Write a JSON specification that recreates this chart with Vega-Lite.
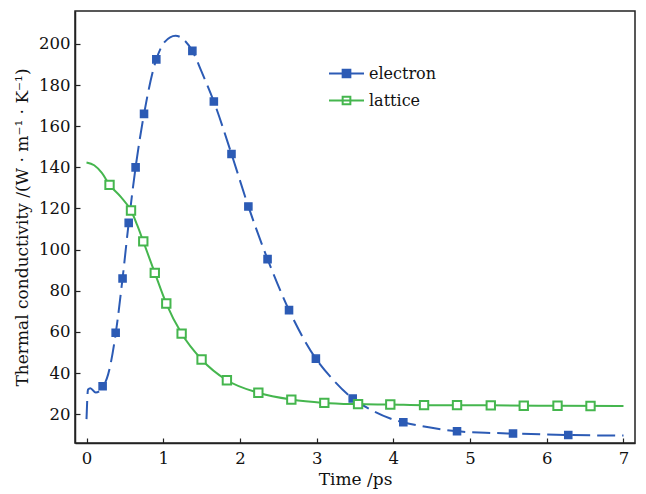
{
  "$schema": "https://vega.github.io/schema/vega-lite/v6.json",
  "width": 560,
  "height": 432,
  "autosize": {"type": "none"},
  "padding": {"left": 75, "top": 11, "right": 11, "bottom": 51},
  "background": "white",
  "config": {
    "font": "DejaVu Serif",
    "view": {"stroke": "#222", "strokeWidth": 1.5},
    "axis": {
      "grid": false,
      "domainColor": "#222",
      "domainWidth": 1.5,
      "tickColor": "#222",
      "tickWidth": 1.2,
      "labelFont": "DejaVu Serif",
      "labelFontSize": 16.5,
      "labelColor": "#111",
      "titleFont": "DejaVu Serif",
      "titleFontSize": 17,
      "titleFontWeight": "normal",
      "titleColor": "#111"
    },
    "legend": {
      "labelFont": "DejaVu Serif", "labelFontSize": 16, "labelColor": "#111",
      "orient": "none", "legendX": 253, "legendY": 44,
      "symbolType": "M-1,0L1,0M-0.22,-0.22L0.22,-0.22L0.22,0.22L-0.22,0.22Z",
      "symbolSize": 1225, "symbolStrokeWidth": 2, "rowPadding": -6, "labelOffset": 4
    }
  },
  "datasets": {
    "curve": [
      {"series": "electron", "t": 0.0, "v": 17.6},
      {"series": "electron", "t": 0.02, "v": 32.0},
      {"series": "electron", "t": 0.05, "v": 32.6},
      {"series": "electron", "t": 0.12, "v": 30.5},
      {"series": "electron", "t": 0.2, "v": 32.5},
      {"series": "electron", "t": 0.3, "v": 42},
      {"series": "electron", "t": 0.38, "v": 59},
      {"series": "electron", "t": 0.47, "v": 86},
      {"series": "electron", "t": 0.55, "v": 113},
      {"series": "electron", "t": 0.64, "v": 140},
      {"series": "electron", "t": 0.75, "v": 166},
      {"series": "electron", "t": 0.91, "v": 192.5},
      {"series": "electron", "t": 1.02, "v": 201},
      {"series": "electron", "t": 1.16, "v": 204},
      {"series": "electron", "t": 1.27, "v": 202},
      {"series": "electron", "t": 1.38, "v": 196.6},
      {"series": "electron", "t": 1.5, "v": 186.5},
      {"series": "electron", "t": 1.66, "v": 172},
      {"series": "electron", "t": 1.89, "v": 146.5},
      {"series": "electron", "t": 2.11, "v": 121},
      {"series": "electron", "t": 2.36, "v": 95.4},
      {"series": "electron", "t": 2.64, "v": 70.6},
      {"series": "electron", "t": 2.99, "v": 47},
      {"series": "electron", "t": 3.22, "v": 36.5},
      {"series": "electron", "t": 3.47, "v": 27.6},
      {"series": "electron", "t": 3.7, "v": 22.3},
      {"series": "electron", "t": 3.96, "v": 17.9},
      {"series": "electron", "t": 4.13, "v": 16.1},
      {"series": "electron", "t": 4.5, "v": 13.4},
      {"series": "electron", "t": 4.83, "v": 11.7},
      {"series": "electron", "t": 5.2, "v": 11.0},
      {"series": "electron", "t": 5.56, "v": 10.6},
      {"series": "electron", "t": 6.28, "v": 9.9},
      {"series": "electron", "t": 7.0, "v": 9.6},
      {"series": "lattice", "t": 0.0, "v": 142.4},
      {"series": "lattice", "t": 0.1, "v": 141},
      {"series": "lattice", "t": 0.2, "v": 137.3},
      {"series": "lattice", "t": 0.3, "v": 131.5},
      {"series": "lattice", "t": 0.45, "v": 125.5},
      {"series": "lattice", "t": 0.58, "v": 119},
      {"series": "lattice", "t": 0.66, "v": 112},
      {"series": "lattice", "t": 0.74, "v": 104},
      {"series": "lattice", "t": 0.89, "v": 88.7},
      {"series": "lattice", "t": 1.04, "v": 73.8},
      {"series": "lattice", "t": 1.24, "v": 59.2},
      {"series": "lattice", "t": 1.5, "v": 46.6},
      {"series": "lattice", "t": 1.83, "v": 36.5},
      {"series": "lattice", "t": 2.24, "v": 30.4},
      {"series": "lattice", "t": 2.67, "v": 27.1},
      {"series": "lattice", "t": 3.09, "v": 25.5},
      {"series": "lattice", "t": 3.54, "v": 24.9},
      {"series": "lattice", "t": 3.96, "v": 24.7},
      {"series": "lattice", "t": 4.4, "v": 24.4},
      {"series": "lattice", "t": 5.27, "v": 24.3},
      {"series": "lattice", "t": 6.14, "v": 24.1},
      {"series": "lattice", "t": 7.0, "v": 24.0}
    ],
    "markers": [
      {"series": "electron", "t": 0.21, "v": 33.6},
      {"series": "electron", "t": 0.38, "v": 59.6},
      {"series": "electron", "t": 0.47, "v": 86},
      {"series": "electron", "t": 0.55, "v": 113},
      {"series": "electron", "t": 0.64, "v": 140},
      {"series": "electron", "t": 0.75, "v": 166},
      {"series": "electron", "t": 0.91, "v": 192.5},
      {"series": "electron", "t": 1.38, "v": 196.6},
      {"series": "electron", "t": 1.66, "v": 172},
      {"series": "electron", "t": 1.89, "v": 146.5},
      {"series": "electron", "t": 2.11, "v": 121},
      {"series": "electron", "t": 2.36, "v": 95.4},
      {"series": "electron", "t": 2.64, "v": 70.6},
      {"series": "electron", "t": 2.99, "v": 47},
      {"series": "electron", "t": 3.47, "v": 27.6},
      {"series": "electron", "t": 4.13, "v": 16.1},
      {"series": "electron", "t": 4.83, "v": 11.7},
      {"series": "electron", "t": 5.56, "v": 10.6},
      {"series": "electron", "t": 6.28, "v": 9.9},
      {"series": "lattice", "t": 0.3, "v": 131.5},
      {"series": "lattice", "t": 0.58, "v": 119},
      {"series": "lattice", "t": 0.74, "v": 104},
      {"series": "lattice", "t": 0.89, "v": 88.7},
      {"series": "lattice", "t": 1.04, "v": 73.8},
      {"series": "lattice", "t": 1.24, "v": 59.2},
      {"series": "lattice", "t": 1.5, "v": 46.6},
      {"series": "lattice", "t": 1.83, "v": 36.5},
      {"series": "lattice", "t": 2.24, "v": 30.4},
      {"series": "lattice", "t": 2.67, "v": 27.1},
      {"series": "lattice", "t": 3.1, "v": 25.5},
      {"series": "lattice", "t": 3.54, "v": 24.9},
      {"series": "lattice", "t": 3.96, "v": 24.7},
      {"series": "lattice", "t": 4.4, "v": 24.4},
      {"series": "lattice", "t": 4.83, "v": 24.4},
      {"series": "lattice", "t": 5.27, "v": 24.3},
      {"series": "lattice", "t": 5.7, "v": 24.1},
      {"series": "lattice", "t": 6.14, "v": 24.1},
      {"series": "lattice", "t": 6.57, "v": 24.0}
    ]
  },
  "encoding": {
    "x": {
      "field": "t", "type": "quantitative",
      "scale": {"domain": [-0.15, 7.15], "nice": false, "zero": false},
      "axis": {"title": "Time /ps", "values": [0, 1, 2, 3, 4, 5, 6, 7], "tickSize": -5, "labelPadding": 12, "titlePadding": 5}
    },
    "y": {
      "field": "v", "type": "quantitative",
      "scale": {"domain": [6, 216], "nice": false, "zero": false},
      "axis": {"title": "Thermal conductivity /(W · m⁻¹ · K⁻¹)", "values": [20, 40, 60, 80, 100, 120, 140, 160, 180, 200], "tickSize": -5, "labelPadding": 10, "titlePadding": 7}
    },
    "stroke": {"field": "series", "type": "nominal", "title": null, "scale": {"domain": ["electron", "lattice"], "range": ["#2c5bb5", "#45b64e"]}}
  },
  "layer": [
    {
      "data": {"name": "curve"},
      "transform": [{"filter": "datum.series === 'electron'"}],
      "mark": {"type": "line", "interpolate": "monotone", "strokeWidth": 2, "strokeDash": [18, 7]}
    },
    {
      "data": {"name": "curve"},
      "transform": [{"filter": "datum.series === 'lattice'"}],
      "mark": {"type": "line", "interpolate": "monotone", "strokeWidth": 2}
    },
    {
      "data": {"name": "markers"},
      "transform": [{"filter": "datum.series === 'electron'"}],
      "mark": {"type": "square", "opacity": 1, "strokeWidth": 1.5, "size": 50},
      "encoding": {
        "fill": {"field": "series", "type": "nominal", "title": null, "scale": {"domain": ["electron", "lattice"], "range": ["#2c5bb5", "#ffffff"]}}
      }
    },
    {
      "data": {"name": "markers"},
      "transform": [{"filter": "datum.series === 'lattice'"}],
      "mark": {"type": "square", "opacity": 1, "strokeWidth": 2, "size": 70},
      "encoding": {
        "fill": {"field": "series", "type": "nominal", "title": null, "scale": {"domain": ["electron", "lattice"], "range": ["#2c5bb5", "#ffffff"]}}
      }
    }
  ]
}
